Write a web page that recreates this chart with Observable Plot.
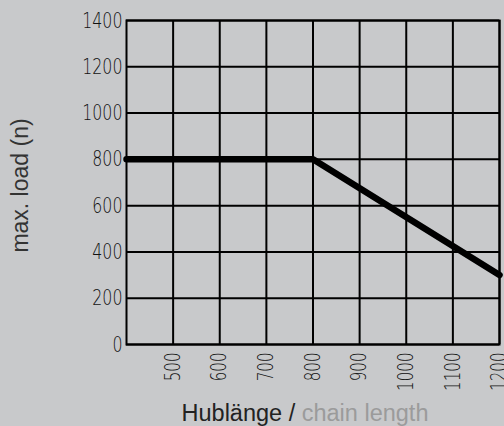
<!DOCTYPE html>
<html>
<head>
<meta charset="utf-8">
<script src="https://cdn.jsdelivr.net/npm/d3@7"></script>
<script src="https://cdn.jsdelivr.net/npm/@observablehq/plot@0.6"></script>
<style>
  html, body { margin: 0; padding: 0; background: #c8c9cb; }
</style>
</head>
<body>
<div id="chart"></div>
<script>
const xTicks = [500, 600, 700, 800, 900, 1000, 1100, 1200];
const yTicks = [0, 200, 400, 600, 800, 1000, 1200, 1400];
const chainLength = [400, 800, 1200];
const maxLoad = [800, 800, 300];
const yTitle = "max. load (n)";
const xTitleDe = "Hublänge / ";
const xTitleEn = "chain length";

const data = chainLength.map((c, i) => ({c, v: maxLoad[i]}));

const chart = Plot.plot({
  width: 504,
  height: 426,
  marginLeft: 126,
  marginRight: 5,
  marginTop: 20,
  marginBottom: 82,
  style: {background: "#c8c9cb", fontFamily: "'DejaVu Sans', sans-serif", fontSize: "22px", fontWeight: 200, color: "#111"},
  x: {domain: [400, 1200]},
  y: {domain: [0, 1400]},
  marks: [
    Plot.gridX(xTicks, {stroke: "#000", strokeOpacity: 1, strokeWidth: 2}),
    Plot.gridY(yTicks, {stroke: "#000", strokeOpacity: 1, strokeWidth: 2}),
    Plot.frame({stroke: "#000", strokeWidth: 2}),
    Plot.axisY({ticks: yTicks, tickSize: 0, tickPadding: 4, label: null, fontSize: 22, tickFormat: d => String(d)}),
    Plot.axisX({ticks: xTicks, tickSize: 0, tickPadding: 8, tickRotate: -90, label: null, fontSize: 21, tickFormat: d => String(d)}),
    Plot.line(data, {x: "c", y: "v", stroke: "#000", strokeWidth: 6.5, strokeLinejoin: "miter"})
  ]
});

const svg = d3.select(chart);
// narrow the tick labels to mimic the condensed DIN-style digits
svg.selectAll("g[aria-label='y-axis tick label'] text, g[aria-label='x-axis tick label'] text").each(function() {
  const el = d3.select(this);
  const tr = el.attr("transform") || "";
  el.attr("transform", tr + " scale(0.72,1)");
});

svg.append("text")
  .attr("transform", "translate(28,185.5) rotate(-90)")
  .attr("text-anchor", "middle")
  .attr("font-family", "'Liberation Sans', Arial, sans-serif")
  .attr("font-size", 23)
  .attr("fill", "#333")
  .text(yTitle);
const t = svg.append("text")
  .attr("x", 305)
  .attr("y", 421)
  .attr("text-anchor", "middle")
  .attr("font-family", "'Liberation Sans', Arial, sans-serif")
  .attr("font-size", 23.5);
t.append("tspan").attr("fill", "#222").text(xTitleDe);
t.append("tspan").attr("fill", "#9b9b9b").text(xTitleEn);

document.getElementById("chart").appendChild(chart);
</script>
</body>
</html>
